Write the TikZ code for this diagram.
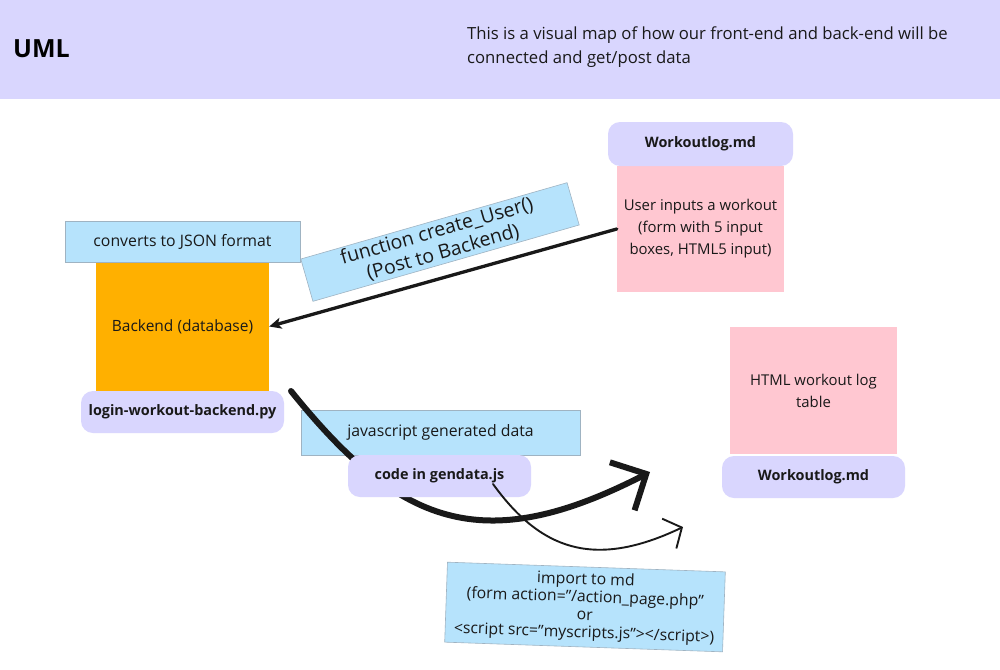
\documentclass[tikz,border=0pt]{standalone}
\usepackage{fontspec}
\setmainfont{Open Sans}
\usetikzlibrary{arrows.meta}
\definecolor{lav}{HTML}{D9D6FE}
\definecolor{skyb}{HTML}{B6E3FC}
\definecolor{pinkb}{HTML}{FFC7D1}
\definecolor{orng}{HTML}{FFB000}
\definecolor{bgray}{HTML}{9FB3C2}
\begin{document}
\begin{tikzpicture}[x=1pt,y=-1pt,
  txt/.style={font=\fontsize{15.8}{18}\selectfont, text=black!90, align=center, inner sep=0pt},
  bluebox/.style={txt, fill=skyb, draw=bgray, line width=0.6pt},
  lavbox/.style={txt, fill=lav, rounded corners=12pt, font=\fontsize{14.4}{17}\selectfont\bfseries},
  pinkbox/.style={txt, fill=pinkb, font=\fontsize{14.9}{22}\selectfont},
  orgbox/.style={txt, fill=orng, font=\fontsize{15.5}{18}\selectfont},
  conn/.style={black!90, line cap=round}
]
\useasboundingbox (0,0) rectangle (1000,669);
\fill[white] (0,0) rectangle (1000,669);
% header
\node[fill=lav, minimum width=1000pt, minimum height=99pt, inner sep=0pt, anchor=north west] (header) at (0,0) {};
\node[anchor=west, inner sep=0pt, font=\fontsize{25}{28}\selectfont\bfseries] (uml) at (13,49) {UML};
\node[anchor=west, inner sep=0pt, align=left, font=\fontsize{16.7}{24}\selectfont, text=black!90] (desc) at (467,47) {This is a visual map of how our front-end and back-end will be\\connected and get/post data};
% left column
\node[orgbox, minimum width=173pt, minimum height=129pt] (backend) at (182.5,326.5) {Backend (database)};
\node[bluebox, minimum width=235pt, minimum height=41pt] (json) at (182.5,241.5) {converts to JSON format};
\node[lavbox, minimum width=203pt, minimum height=42pt] (login) at (182.5,412) {login-workout-backend.py};
% rotated function box
\node[bluebox, minimum width=277pt, minimum height=44pt, rotate=16, font=\fontsize{19.5}{22}\selectfont] (func) at (440,242) {function create\_User()\\(Post to Backend)};
% right top
\node[pinkbox, minimum width=167pt, minimum height=126pt] (userin) at (700.5,229) {User inputs a workout\\(form with 5 input\\boxes, HTML5 input)};
\node[lavbox, minimum width=185pt, minimum height=44pt] (topmd) at (700.5,144) {Workoutlog.md};
% right bottom
\node[pinkbox, minimum width=167pt, minimum height=127pt] (table) at (813.5,390.5) {HTML workout log\\table};
\node[lavbox, minimum width=183pt, minimum height=42pt] (botmd) at (813.5,477) {Workoutlog.md};
% straight arrow
\draw[conn, line width=3.3pt, -{Stealth[length=12pt,width=11pt,inset=3pt]}] (userin.west) -- (backend.east);
% middle
\node[bluebox, minimum width=279pt, minimum height=45pt] (jsgen) at (440.5,432.5) {javascript generated data};
\coordinate (c0) at (291,391);
\coordinate (c1) at (650,472);
\draw[conn, line width=6pt, -{Straight Barb[length=27pt,width=54pt]}] (c0) .. controls (398,524) and (481,559) .. (c1);
\node[lavbox, minimum width=183pt, minimum height=42pt] (gendata) at (439.5,476) {code in gendata.js};
\coordinate (t0) at (493,484);
\coordinate (t1) at (683,527);
\draw[conn, line width=1.9pt, -{Straight Barb[length=14pt,width=33pt]}] (t0) .. controls (540,549) and (593,570) .. (t1);
% import box
\node[bluebox, minimum width=278pt, minimum height=80pt, rotate=-2, font=\fontsize{15.8}{17.7}\selectfont] (import) at (585,607) {import to md\\(form action="/action\_page.php"\\or\\<script src="myscripts.js"></script>)};
\end{tikzpicture}
\end{document}
